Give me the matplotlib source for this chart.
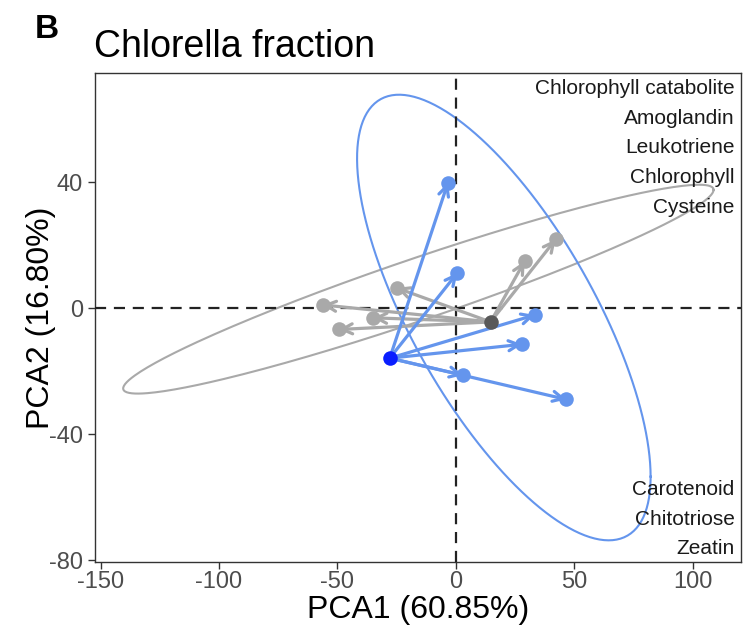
import numpy as np
import matplotlib
matplotlib.use('Agg')
from matplotlib import pylab as plt
from matplotlib.patches import FancyArrowPatch

plt.rcParams['font.family'] = ['Liberation Sans', 'DejaVu Sans']
plt.rcParams['axes.unicode_minus'] = False

# values (PCA scores)
blue_center = [-27.9, -15.9]
blue_x = [-3.3, 0.7, 33.4, 28.0, 3.1, 46.7]
blue_y = [39.8, 11.2, -2.2, -11.5, -21.3, -29.0]

gray_center = [14.7, -4.4]
gray_x = [42.2, 29.1, -25.0, -56.3, -34.9, -49.4]
gray_y = [21.8, 14.9, 6.4, 1.0, -3.1, -6.8]

# ellipses: centre, conjugate semi-diameters (rightmost point offset, vertical half chord)
blue_ell_center = [20.3, -3.0]
blue_ell_u = [62.0, -50.5]
blue_ell_v = [0.0, 49.5]
gray_ell_center = [-15.8, 6.0]
gray_ell_u = [124.7, 31.5]
gray_ell_v = [0.0, 10.3]

top_labels = ['Chlorophyll catabolite', 'Amoglandin', 'Leukotriene', 'Chlorophyll', 'Cysteine']
top_label_y = [69.8, 60.3, 50.8, 41.3, 32.0]
bottom_labels = ['Carotenoid', 'Chitotriose', 'Zeatin']
bottom_label_y = [-57.5, -67.0, -76.2]
label_x = 117.8

xticks = [-150, -100, -50, 0, 50, 100]
yticks = [-80, -40, 0, 40]

c_blue = '#6495ED'
c_blue_dark = '#0A1EFF'
c_gray = '#A9A9A9'
c_gray_dark = '#595959'


def draw_ellipse(ax, center, u, v, color):
    t = np.linspace(0, 2 * np.pi, 300)
    ex = center[0] + u[0] * np.cos(t) + v[0] * np.sin(t)
    ey = center[1] + u[1] * np.cos(t) + v[1] * np.sin(t)
    ax.plot(ex, ey, color=color, lw=1.5, zorder=2)


def draw_arrows(ax, center, xs, ys, color):
    for x, y in zip(xs, ys):
        arr = FancyArrowPatch((center[0], center[1]), (x, y),
                              arrowstyle='->,head_length=0.6,head_width=0.3',
                              mutation_scale=12, color=color, lw=2.3,
                              shrinkA=0, shrinkB=0, zorder=4)
        ax.add_patch(arr)


fig = plt.figure(figsize=(7.44, 6.31), dpi=100)
ax = fig.add_axes([0.1277, 0.1098, 0.868, 0.774])

draw_ellipse(ax, gray_ell_center, gray_ell_u, gray_ell_v, c_gray)
draw_ellipse(ax, blue_ell_center, blue_ell_u, blue_ell_v, c_blue)

ax.axhline(0, color='#222222', lw=1.6, ls=(0, (5, 3.5)), zorder=3)
ax.axvline(0, color='#222222', lw=1.6, ls=(0, (5, 3.5)), zorder=3)

draw_arrows(ax, gray_center, gray_x, gray_y, c_gray)
draw_arrows(ax, blue_center, blue_x, blue_y, c_blue)

ax.scatter(gray_x, gray_y, s=110, color=c_gray, zorder=5, linewidths=0)
ax.scatter(blue_x, blue_y, s=110, color=c_blue, zorder=5, linewidths=0)
ax.scatter([gray_center[0]], [gray_center[1]], s=110, color=c_gray_dark, zorder=6, linewidths=0)
ax.scatter([blue_center[0]], [blue_center[1]], s=110, color=c_blue_dark, zorder=6, linewidths=0)

for lab, y in zip(top_labels, top_label_y):
    ax.text(label_x, y, lab, ha='right', va='center', fontsize=15, color='#1a1a1a', zorder=7)
for lab, y in zip(bottom_labels, bottom_label_y):
    ax.text(label_x, y, lab, ha='right', va='center', fontsize=15, color='#1a1a1a', zorder=7)

ax.set_xlim(-152.4, 120.4)
ax.set_ylim(-80.5, 74.5)
ax.set_xticks(xticks)
ax.set_yticks(yticks)
ax.tick_params(labelsize=17, length=5, width=1, color='#333333', labelcolor='#4d4d4d')
ax.tick_params(axis='x', pad=2)
for s in ax.spines.values():
    s.set_color('#333333')
    s.set_linewidth(1.0)

ax.set_xlabel('PCA1 (60.85%)', fontsize=23, labelpad=1)
ax.set_ylabel('PCA2 (16.80%)', fontsize=23, labelpad=-5)

fig.text(0.047, 0.953, 'B', fontsize=24, fontweight='bold', va='center', ha='left')
fig.text(0.127, 0.926, 'Chlorella fraction', fontsize=27, va='center', ha='left')

fig.savefig('out.png', dpi=100)
